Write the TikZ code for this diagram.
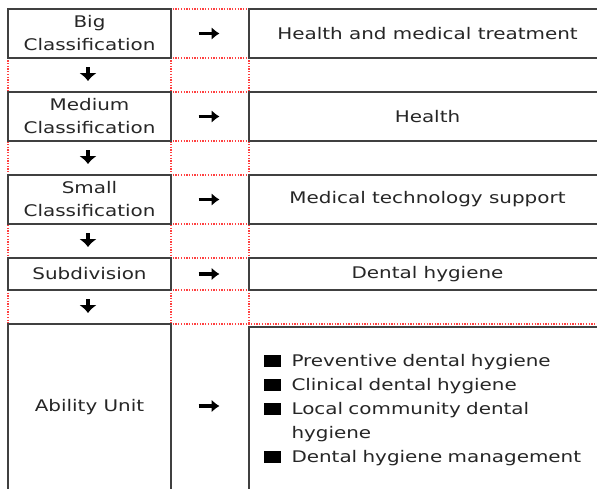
\documentclass[tikz,border=0pt]{standalone}
\usepackage{fontspec}
\setmainfont{DejaVu Sans}[FakeStretch=1.245]
\usetikzlibrary{arrows.meta}
\begin{document}
\begin{tikzpicture}[x=1pt,y=-1pt,
  gridline/.style={red!75, line width=1.1pt, dash pattern=on 1.3pt off 1.4pt},
  cell/.style={draw=black!75, line width=1.1pt, fill=white, text=black!85, align=center, inner sep=0pt, font=\fontsize{16}{23}\selectfont},
  lcell/.style={cell, minimum width=163pt},
  rcell/.style={cell, minimum width=357pt},
  harrow/.style={black, line width=3.6pt, -{Latex[length=8pt,width=13pt]}},
  varrow/.style={black, line width=4.6pt, -{Latex[length=8pt,width=18pt]}}]
\path[use as bounding box, clip] (0,0) rectangle (597,488);
\fill[white] (0,0) rectangle (597,488);
% red dotted grid
\foreach \y in {9,58,92,141,175,224,258,290,324} \draw[gridline] (8,\y) -- (600,\y);
\foreach \x in {8,171,249} \draw[gridline] (\x,9) -- (\x,324);
% left boxes
\node[lcell, minimum height=49pt] (big) at (89.5,33.5) {Big\\Classification};
\node[lcell, minimum height=49pt] (medium) at (89.5,116.5) {Medium\\Classification};
\node[lcell, minimum height=49pt] (small) at (89.5,199.5) {Small\\Classification};
\node[lcell, minimum height=32pt] (subdiv) at (89.5,274) {Subdivision};
\node[lcell, minimum height=166pt] (ability) at (89.5,407) {Ability Unit};
% right boxes
\node[rcell, minimum height=49pt] (bigr) at (427.5,33.5) {Health and medical treatment};
\node[rcell, minimum height=49pt] (mediumr) at (427.5,116.5) {Health};
\node[rcell, minimum height=49pt] (smallr) at (427.5,199.5) {Medical technology support};
\node[rcell, minimum height=32pt] (subdivr) at (427.5,274) {Dental hygiene};
\node[rcell, minimum height=166pt, text width=327pt, inner xsep=15pt, align=left, font=\fontsize{16}{24}\selectfont] (abilityr) at (427.5,410) {%
\begin{tabular}{@{}l@{\hspace{11pt}}l@{}}
\textcolor{black}{\rule[-0.5pt]{16.5pt}{12pt}} & Preventive dental hygiene\\
\textcolor{black}{\rule[-0.5pt]{16.5pt}{12pt}} & Clinical dental hygiene\\
\textcolor{black}{\rule[-0.5pt]{16.5pt}{12pt}} & Local community dental\\
 & hygiene\\
\textcolor{black}{\rule[-0.5pt]{16.5pt}{12pt}} & Dental hygiene management
\end{tabular}};
% right arrows
\coordinate (ra1) at (209,33.5);
\coordinate (ra2) at (209,116.5);
\coordinate (ra3) at (209,199.5);
\coordinate (ra4) at (209,274);
\coordinate (ra5) at (209,406);
\foreach \c in {ra1,ra2,ra3,ra4,ra5}
  \draw[harrow] ([xshift=-10.5pt]\c) -- ([xshift=10.5pt]\c);
% down arrows
\coordinate (da1) at (88,74);
\coordinate (da2) at (88,157);
\coordinate (da3) at (88,240);
\coordinate (da4) at (88,306);
\foreach \c in {da1,da2,da3,da4}
  \draw[varrow] ([yshift=7pt]\c) -- ([yshift=-7pt]\c);
\end{tikzpicture}
\end{document}
